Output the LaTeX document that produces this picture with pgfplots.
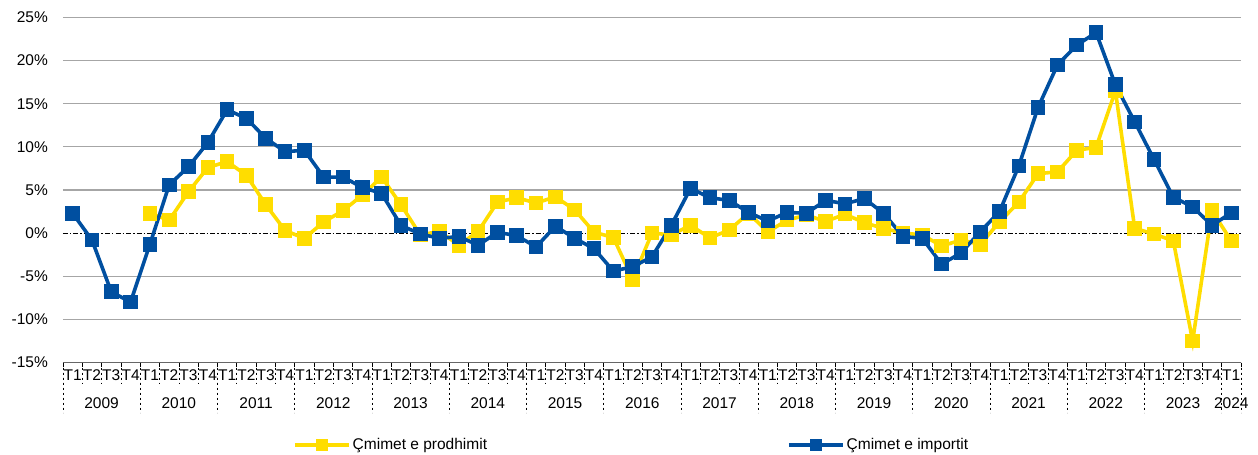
\documentclass[border=0pt]{standalone}
\usepackage{fontspec}
\setmainfont{Liberation Sans}
\usepackage{pgfplots}
\usepackage{pgfplotstable}
\pgfplotsset{compat=1.18}
\definecolor{cyel}{RGB}{255,221,0}
\definecolor{cblu}{RGB}{0,79,160}
\definecolor{cgrid}{RGB}{166,166,166}

\pgfplotstableread{
x y
4 2.3
5 1.5
6 4.8
7 7.6
8 8.3
9 6.7
10 3.3
11 0.3
12 -0.6
13 1.3
14 2.6
15 4.4
16 6.5
17 3.3
18 -0.2
19 0.2
20 -1.4
21 0.2
22 3.6
23 4.1
24 3.5
25 4.2
26 2.7
27 0.1
28 -0.5
29 -5.35
30 0.0
31 -0.2
32 0.9
33 -0.55
34 0.35
35 2.3
36 0.15
37 1.5
38 2.1
39 1.35
40 2.2
41 1.2
42 0.55
43 0.0
44 -0.2
45 -1.5
46 -0.8
47 -1.3
48 1.3
49 3.6
50 6.9
51 7.1
52 9.6
53 9.95
54 16.5
55 0.55
56 -0.1
57 -0.9
58 -12.5
59 2.6
60 -0.9
}\prodhimit

\pgfplotstableread{
x y
0 2.3
1 -0.8
2 -6.8
3 -8.0
4 -1.3
5 5.6
6 7.7
7 10.5
8 14.3
9 13.3
10 11.0
11 9.45
12 9.6
13 6.5
14 6.5
15 5.3
16 4.6
17 0.9
18 -0.1
19 -0.6
20 -0.4
21 -1.4
22 0.1
23 -0.3
24 -1.6
25 0.8
26 -0.6
27 -1.8
28 -4.4
29 -3.9
30 -2.75
31 0.9
32 5.2
33 4.1
34 3.8
35 2.4
36 1.4
37 2.4
38 2.3
39 3.8
40 3.4
41 4.0
42 2.3
43 -0.4
44 -0.6
45 -3.6
46 -2.3
47 0.15
48 2.5
49 7.8
50 14.6
51 19.5
52 21.8
53 23.25
54 17.2
55 12.9
56 8.55
57 4.15
58 3.05
59 0.9
60 2.35
}\importit

\begin{document}
\begin{tikzpicture}
\useasboundingbox (-63pt,-92.5pt) rectangle (1195pt,362.5pt);
\begin{axis}[
  at={(0,0)}, anchor=south west,
  scale only axis, width=1178pt, height=345pt,
  xmin=-0.5, xmax=60.5, ymin=-15, ymax=25,
  clip=false,
  font=\fontsize{15.5}{18}\selectfont,
  axis lines*=left,
  y axis line style={draw=none},
  x axis line style={draw=black!60, line width=0.8pt},
  ytick={-15,-10,-5,5,10,15,20,25},
  yticklabels={-15\%,-10\%,-5\%,5\%,10\%,15\%,20\%,25\%},
  extra y ticks={0},
  extra y tick labels={0\%},
  extra y tick style={grid style={black, line width=0.9pt, dash pattern=on 5pt off 2pt on 1.5pt off 2pt}},
  ymajorgrids,
  grid style={cgrid, line width=1.1pt},
  ytick style={draw=none},
  yticklabel style={anchor=east, inner sep=0pt, xshift=-15pt},
  xtick={0,...,60},
  xticklabels={T1,T2,T3,T4,T1,T2,T3,T4,T1,T2,T3,T4,T1,T2,T3,T4,T1,T2,T3,T4,T1,T2,T3,T4,T1,T2,T3,T4,T1,T2,T3,T4,T1,T2,T3,T4,T1,T2,T3,T4,T1,T2,T3,T4,T1,T2,T3,T4,T1,T2,T3,T4,T1,T2,T3,T4,T1,T2,T3,T4,T1},
  major x tick style={draw=none},
  major tick length=0pt,
  minor xtick={-0.5,0.5,...,60.5},
  minor tick length=4pt,
  minor x tick style={black, line width=0.6pt},
  tick align=outside,
  xticklabel style={anchor=north, inner sep=0pt, yshift=-7pt},
  legend columns=2,
  legend style={at={(axis description cs:0.1952,-0.239)}, anchor=west, draw=none, inner sep=0pt,
    font=\fontsize{15.5}{18}\selectfont,
    /tikz/every even column/.append style={column sep=298pt}},
  legend cell align=left,
  legend image code/.code={\draw[mark repeat=2,mark phase=2,#1,mark size=4.5pt] plot coordinates {(0pt,0pt) (27pt,0pt) (54pt,0pt)};},
]
\foreach \xx in {-0.5,0.5,...,60.5} {
  \edef\temp{\noexpand\draw[black, line width=0.6pt, dash pattern=on 2.5pt off 2.5pt] (axis cs:\xx,-15) -- ([yshift=-21pt]axis cs:\xx,-15);}
  \temp
}
\foreach \xx in {-0.5,3.5,7.5,11.5,15.5,19.5,23.5,27.5,31.5,35.5,39.5,43.5,47.5,51.5,55.5,59.5,60.5} {
  \edef\temp{\noexpand\draw[black, line width=0.6pt, dash pattern=on 2.5pt off 2.5pt] (axis cs:\xx,-15) -- ([yshift=-50pt]axis cs:\xx,-15);}
  \temp
}
\foreach \yy [count=\j from 0] in {2009,2010,2011,2012,2013,2014,2015,2016,2017,2018,2019,2020,2021,2022,2023} {
  \edef\temp{\noexpand\node[inner sep=0pt] at ([yshift=-40.5pt]axis cs:{4*\j+1.5},-15) {\yy};}
  \temp
}
\node[inner sep=0pt] at ([yshift=-40.5pt]axis cs:60,-15) {2024};
\addplot[cyel, line width=3.6pt, mark=square*, mark size=5.5pt, mark options={solid}] table[x=x,y=y] {\prodhimit};
\addlegendentry{Çmimet e prodhimit}
\addplot[cblu, line width=3.6pt, mark=square*, mark size=5.5pt, mark options={solid}] table[x=x,y=y] {\importit};
\addlegendentry{Çmimet e importit}
\end{axis}
\end{tikzpicture}
\end{document}
